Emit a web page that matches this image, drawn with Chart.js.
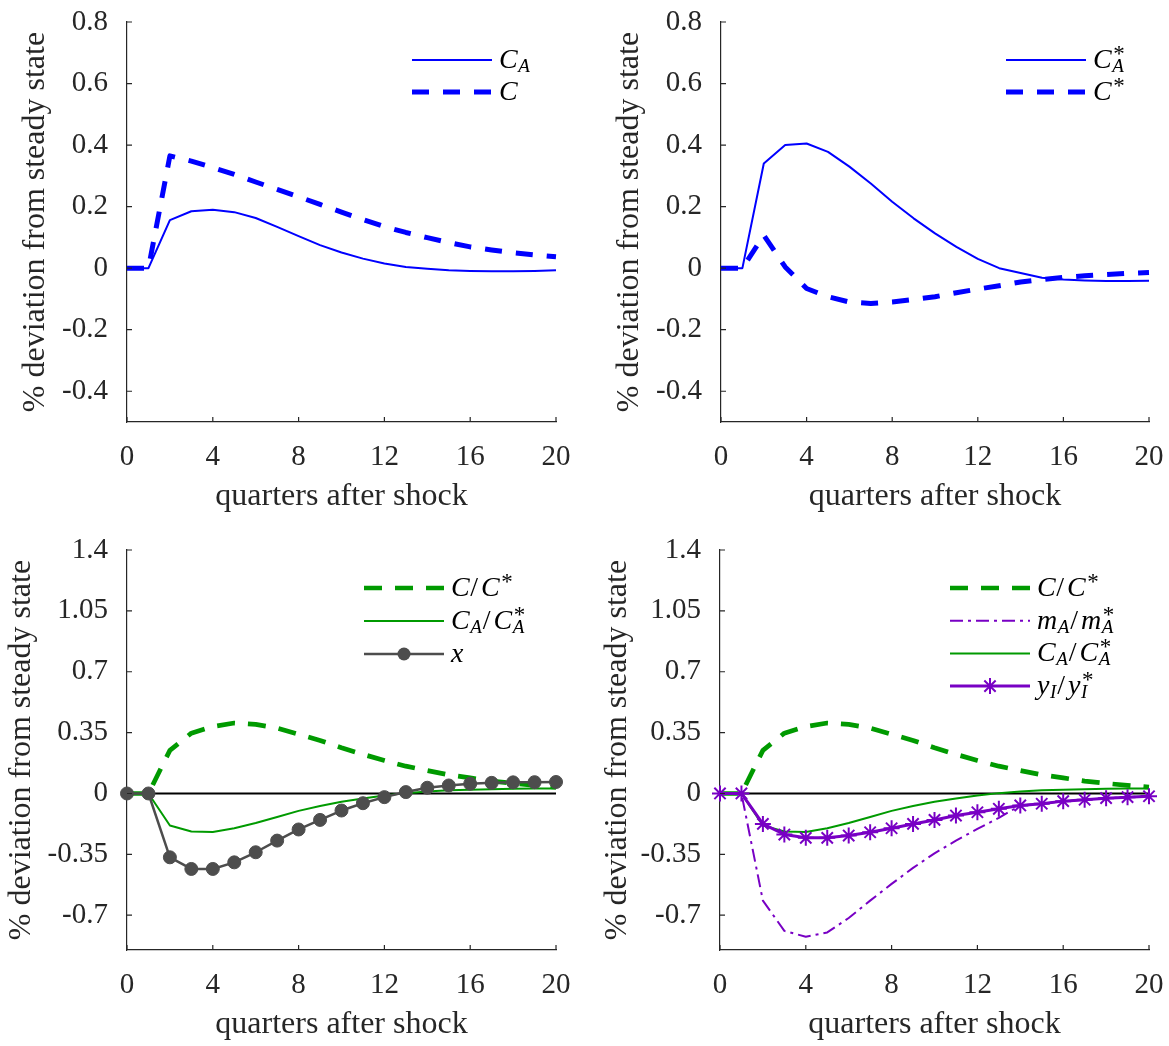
<!DOCTYPE html>
<html>
<head>
<meta charset="utf-8">
<title>Impulse responses</title>
<script src="https://cdn.jsdelivr.net/npm/chart.js@4.4.0/dist/chart.umd.min.js"></script>
<style>
  html, body { margin: 0; padding: 0; background: #fff; }
  #page { position: relative; width: 1169px; height: 1046px; overflow: hidden; }
  #page canvas { position: absolute; }
</style>
</head>
<body>
<div id="page">
  <canvas id="chart-tl" width="584" height="523" style="left:0;top:0;width:584px;height:523px"></canvas>
  <canvas id="chart-tr" width="575" height="523" style="left:594px;top:0;width:575px;height:523px"></canvas>
  <canvas id="chart-bl" width="584" height="523" style="left:0;top:523px;width:584px;height:523px"></canvas>
  <canvas id="chart-br" width="575" height="523" style="left:594px;top:523px;width:575px;height:523px"></canvas>
</div>
<script>
// quarters after the shock and axis ticks
const quarters = [0, 1, 2, 3, 4, 5, 6, 7, 8, 9, 10, 11, 12, 13, 14, 15, 16, 17, 18, 19, 20];
const xTicks = [0, 4, 8, 12, 16, 20];
const yTicksTop = [-0.4, -0.2, 0, 0.2, 0.4, 0.6, 0.8];
const yTicksBottom = [-0.7, -0.35, 0, 0.35, 0.7, 1.05, 1.4];

// top left: home consumption
const cA = [0, 0, 0.156, 0.185, 0.19, 0.182, 0.163, 0.134, 0.104, 0.075, 0.051, 0.031, 0.015, 0.004, -0.002, -0.007, -0.009, -0.01, -0.01, -0.009, -0.007];
const cTotal = [0, 0, 0.365, 0.348, 0.327, 0.305, 0.28, 0.256, 0.232, 0.207, 0.182, 0.158, 0.135, 0.116, 0.099, 0.083, 0.069, 0.059, 0.05, 0.043, 0.037];

// top right: foreign consumption
const cAStar = [0, 0, 0.34, 0.40, 0.405, 0.378, 0.33, 0.275, 0.216, 0.162, 0.113, 0.069, 0.03, 0.0, -0.016, -0.031, -0.037, -0.04, -0.042, -0.042, -0.041];
const cStar = [0, 0, 0.107, 0.004, -0.066, -0.093, -0.11, -0.115, -0.11, -0.102, -0.093, -0.08, -0.068, -0.057, -0.045, -0.037, -0.03, -0.025, -0.021, -0.017, -0.014];

// bottom: relative responses
const cRatio = [0, 0, 0.248, 0.347, 0.385, 0.405, 0.397, 0.376, 0.34, 0.305, 0.263, 0.225, 0.19, 0.157, 0.132, 0.107, 0.09, 0.071, 0.058, 0.047, 0.037];
const cARatio = [0, 0, -0.184, -0.219, -0.221, -0.2, -0.17, -0.135, -0.1, -0.072, -0.048, -0.029, -0.012, 0.002, 0.012, 0.018, 0.022, 0.025, 0.027, 0.028, 0.029];
const xSeries = [0, 0, -0.367, -0.434, -0.434, -0.396, -0.338, -0.271, -0.207, -0.152, -0.098, -0.056, -0.021, 0.008, 0.033, 0.046, 0.056, 0.061, 0.064, 0.065, 0.066];
const mARatio = [0, 0, -0.616, -0.79, -0.824, -0.799, -0.716, -0.616, -0.52, -0.428, -0.344, -0.271, -0.204, -0.14, -0.069, -0.059, -0.044, -0.036, -0.027, -0.021, -0.016];
const yIRatio = [0, 0, -0.175, -0.236, -0.255, -0.255, -0.242, -0.223, -0.2, -0.175, -0.152, -0.127, -0.108, -0.088, -0.069, -0.059, -0.044, -0.036, -0.027, -0.021, -0.016];

const BLUE = '#0000ff';
const GREEN = '#009a00';
const GREY = '#4d4d4d';
const PURPLE = '#7800c4';
const AXIS = '#262626';
const SERIF = '"Liberation Serif", "Times New Roman", serif';

function line(label, data, color, width, dash) {
    return {
        label: label,
        data: data,
        borderColor: color,
        backgroundColor: color,
        borderWidth: width,
        borderDash: dash || [],
        borderCapStyle: 'butt',
        borderJoinStyle: 'round',
        pointRadius: 0,
        fill: false,
        clip: false
    };
}

function withMarkers(ds, style, radius, borderWidth) {
    ds.pointStyle = style;
    ds.pointRadius = radius;
    ds.pointBorderWidth = borderWidth;
    ds.pointBorderColor = ds.borderColor;
    ds.pointBackgroundColor = ds.borderColor;
    return ds;
}

// draws labels like C_A/C_A^* with italic letters and scripts
function drawMath(ctx, text, x, y) {
    const base = y + 8;
    let i = 0;
    while (i < text.length) {
        const ch = text[i];
        if (ch === '_' || ch === '^') {
            let sub = '', sup = '';
            while (i < text.length && (text[i] === '_' || text[i] === '^')) {
                if (text[i] === '_') sub = text[i + 1]; else sup = text[i + 1];
                i += 2;
            }
            let w = 0;
            if (sub) {
                ctx.font = 'italic 19px ' + SERIF;
                ctx.fillText(sub, x, base + 4);
                w = ctx.measureText(sub).width;
            }
            if (sup) {
                ctx.font = '23px ' + SERIF;
                ctx.fillText(sup, x + 1, base - 7);
                w = Math.max(w, ctx.measureText(sup).width + 1);
            }
            x += w + 1;
            continue;
        }
        const upright = ch === '/';
        ctx.font = (upright ? '' : 'italic ') + '28px ' + SERIF;
        ctx.fillText(ch, x, base);
        x += ctx.measureText(ch).width + (upright ? 3 : 0.5);
        i++;
    }
}

function drawMarker(ctx, ds, x, y) {
    ctx.fillStyle = ds.pointBackgroundColor;
    ctx.strokeStyle = ds.pointBorderColor;
    ctx.lineWidth = ds.pointBorderWidth;
    if (ds.pointStyle === 'circle') {
        ctx.beginPath();
        ctx.arc(x, y, ds.pointRadius, 0, Math.PI * 2);
        ctx.fill();
    } else {
        const r = ds.pointRadius;
        ctx.beginPath();
        for (let k = 0; k < 4; k++) {
            const a = k * Math.PI / 4;
            ctx.moveTo(x - Math.cos(a) * r, y - Math.sin(a) * r);
            ctx.lineTo(x + Math.cos(a) * r, y + Math.sin(a) * r);
        }
        ctx.stroke();
    }
}

const mathLegend = {
    id: 'mathLegend',
    afterDraw(chart, args, opts) {
        const ctx = chart.ctx;
        const area = chart.chartArea;
        const x0 = area.right - opts.fromRight;
        const x1 = x0 + 80;
        ctx.save();
        chart.data.datasets.forEach((ds, i) => {
            const y = area.top + opts.fromTop + i * opts.rowGap;
            ctx.strokeStyle = ds.borderColor;
            ctx.lineWidth = ds.borderWidth;
            ctx.lineCap = 'butt';
            ctx.setLineDash(ds.borderDash || []);
            ctx.beginPath();
            ctx.moveTo(x0, y);
            ctx.lineTo(x1, y);
            ctx.stroke();
            ctx.setLineDash([]);
            if (ds.pointRadius > 0) drawMarker(ctx, ds, (x0 + x1) / 2, y);
            ctx.fillStyle = '#000';
            ctx.textBaseline = 'alphabetic';
            ctx.textAlign = 'left';
            drawMath(ctx, ds.label, x1 + 7, y);
        });
        ctx.restore();
    }
};

// inward tick marks and the zero reference line
const axisDecor = {
    id: 'axisDecor',
    beforeDatasetsDraw(chart, args, opts) {
        if (!opts.zeroLine) return;
        const ctx = chart.ctx;
        const xs = chart.scales.x, ys = chart.scales.y;
        const y = ys.getPixelForValue(0);
        ctx.save();
        ctx.strokeStyle = '#000';
        ctx.lineWidth = 2.2;
        ctx.beginPath();
        ctx.moveTo(xs.getPixelForValue(quarters[0]), y);
        ctx.lineTo(xs.getPixelForValue(quarters[quarters.length - 1]), y);
        ctx.stroke();
        ctx.restore();
    },
    afterDraw(chart) {
        const ctx = chart.ctx;
        const area = chart.chartArea;
        ctx.save();
        ctx.strokeStyle = AXIS;
        ctx.lineWidth = 1.2;
        ctx.beginPath();
        chart.scales.x.ticks.forEach(t => {
            const x = chart.scales.x.getPixelForValue(t.value);
            ctx.moveTo(x, area.bottom);
            ctx.lineTo(x, area.bottom - 5);
        });
        chart.scales.y.ticks.forEach(t => {
            const y = chart.scales.y.getPixelForValue(t.value);
            ctx.moveTo(area.left, y);
            ctx.lineTo(area.left + 5, y);
        });
        ctx.stroke();
        ctx.restore();
    }
};

function makeChart(id, spec) {
    const el = document.getElementById(id);
    spec.datasets.forEach((ds, i) => { ds.order = spec.datasets.length - i; });
    return new Chart(el.getContext('2d'), {
        type: 'line',
        data: { labels: quarters, datasets: spec.datasets },
        options: {
            responsive: false,
            animation: false,
            layout: { padding: { top: spec.padTop, right: spec.padRight, left: 0, bottom: 0 } },
            elements: { line: { tension: 0 } },
            plugins: {
                legend: { display: false },
                tooltip: { enabled: false },
                mathLegend: spec.legend,
                axisDecor: { zeroLine: spec.zeroLine }
            },
            scales: {
                x: {
                    type: 'linear',
                    min: 0,
                    max: 20,
                    afterBuildTicks: s => { s.ticks = xTicks.map(v => ({ value: v })); },
                    afterFit: s => {
                        s.height = spec.xBand;
                        s.paddingLeft = 0; s.paddingRight = 0;
                        s.paddingTop = 0; s.paddingBottom = 0;
                    },
                    grid: { display: false, drawTicks: false },
                    border: { display: true, color: AXIS, width: 1.2 },
                    ticks: {
                        font: { family: SERIF, size: 29, lineHeight: 1 },
                        color: AXIS,
                        padding: 21,
                        maxRotation: 0,
                        autoSkip: false,
                        callback: v => String(v)
                    },
                    title: {
                        display: true,
                        text: 'quarters after shock',
                        font: { family: SERIF, size: 32, lineHeight: 1 },
                        color: AXIS,
                        padding: { top: 0, bottom: spec.xTitlePad }
                    }
                },
                y: {
                    min: spec.yMin,
                    max: spec.yMax,
                    afterBuildTicks: s => { s.ticks = spec.yTicks.map(v => ({ value: v })); },
                    afterFit: s => {
                        s.width = spec.yWidth;
                        s.paddingLeft = 0; s.paddingRight = 0;
                        s.paddingTop = 0; s.paddingBottom = 0;
                    },
                    grid: { display: false, drawTicks: false },
                    border: { display: true, color: AXIS, width: 1.2 },
                    ticks: {
                        font: { family: SERIF, size: 29, lineHeight: 1 },
                        color: AXIS,
                        padding: 19,
                        autoSkip: false,
                        callback: v => String(v)
                    },
                    title: {
                        display: true,
                        text: '% deviation from steady state',
                        font: { family: SERIF, size: 32, lineHeight: 1 },
                        color: AXIS,
                        padding: { top: spec.yTitlePad, bottom: 0 }
                    }
                }
            }
        },
        plugins: [axisDecor, mathLegend]
    });
}

document.addEventListener('DOMContentLoaded', function() {
    makeChart('chart-tl', {
        datasets: [
            line('C_A', cA, BLUE, 2),
            line('C', cTotal, BLUE, 5, [17, 14])
        ],
        yMin: -0.5, yMax: 0.8, yTicks: yTicksTop,
        padTop: 22, padRight: 28, yWidth: 127, xBand: 101,
        yTitlePad: 20, xTitlePad: 10,
        legend: { fromRight: 144, fromTop: 38, rowGap: 32 },
        zeroLine: false
    });

    makeChart('chart-tr', {
        datasets: [
            line('C_A^*', cAStar, BLUE, 2),
            line('C^*', cStar, BLUE, 5, [17, 14])
        ],
        yMin: -0.5, yMax: 0.8, yTicks: yTicksTop,
        padTop: 22, padRight: 20, yWidth: 127, xBand: 101,
        yTitlePad: 20, xTitlePad: 10,
        legend: { fromRight: 143, fromTop: 38, rowGap: 32 },
        zeroLine: false
    });

    makeChart('chart-bl', {
        datasets: [
            line('C/C^*', cRatio, GREEN, 4.7, [18, 13]),
            line('C_A/C_A^*', cARatio, GREEN, 2),
            withMarkers(line('x', xSeries, GREY, 2.5), 'circle', 6.5, 1)
        ],
        yMin: -0.9, yMax: 1.4, yTicks: yTicksBottom,
        padTop: 27, padRight: 28, yWidth: 127, xBand: 96,
        yTitlePad: 6, xTitlePad: 5,
        legend: { fromRight: 192, fromTop: 38, rowGap: 33 },
        zeroLine: true
    });

    makeChart('chart-br', {
        datasets: [
            line('C/C^*', cRatio, GREEN, 4.7, [18, 13]),
            line('m_A/m_A^*', mARatio, PURPLE, 2, [13, 5, 3, 5]),
            line('C_A/C_A^*', cARatio, GREEN, 2),
            withMarkers(line('y_I/y_I^*', yIRatio, PURPLE, 3), 'star', 8, 2)
        ],
        yMin: -0.9, yMax: 1.4, yTicks: yTicksBottom,
        padTop: 27, padRight: 20, yWidth: 126, xBand: 96,
        yTitlePad: 8, xTitlePad: 5,
        legend: { fromRight: 199, fromTop: 38, rowGap: 32.7 },
        zeroLine: true
    });
});
</script>
</body>
</html>
